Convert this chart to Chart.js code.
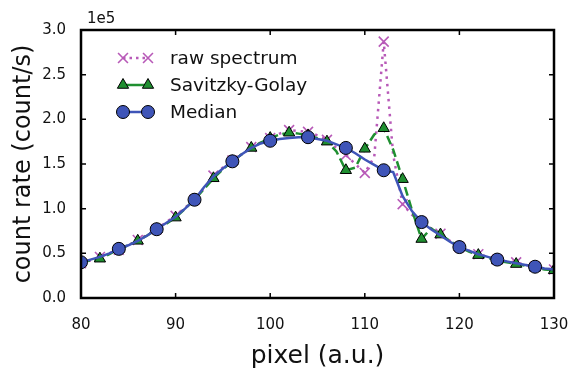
<!DOCTYPE html>
<html>
<head>
<meta charset="utf-8">
<script src="https://cdn.jsdelivr.net/npm/chart.js@4.4.0/dist/chart.umd.min.js"></script>
<style>
  html, body { margin: 0; padding: 0; background: #fff; }
  #wrap { width: 568px; height: 369px; }
</style>
</head>
<body>
<div id="wrap"><canvas id="spectrumChart"></canvas></div>
<script>
// pixel position (a.u.)
const pixels = [80, 81, 82, 83, 84, 85, 86, 87, 88, 89,
  90, 91, 92, 93, 94, 95, 96, 97, 98, 99,
  100, 101, 102, 103, 104, 105, 106, 107, 108, 109,
  110, 111, 112, 113, 114, 115, 116, 117, 118, 119,
  120, 121, 122, 123, 124, 125, 126, 127, 128, 129, 130];

// count rate, in units of 1e5 count/s
const rawSpectrum = [0.39, 0.42, 0.46, 0.50, 0.54, 0.59, 0.65, 0.71, 0.77, 0.85,
  0.92, 1.01, 1.10, 1.23, 1.37, 1.46, 1.54, 1.61, 1.69, 1.74,
  1.79, 1.84, 1.88, 1.87, 1.86, 1.82, 1.77, 1.68, 1.60, 1.50,
  1.40, 1.58, 2.87, 1.60, 1.05, 0.93, 0.85, 0.78, 0.72, 0.64,
  0.57, 0.53, 0.49, 0.46, 0.43, 0.41, 0.40, 0.37, 0.35, 0.33, 0.32];

const savitzkyGolay = [0.40, 0.42, 0.44, 0.49, 0.55, 0.59, 0.64, 0.70, 0.77, 0.83,
  0.90, 1.00, 1.10, 1.22, 1.34, 1.44, 1.53, 1.61, 1.68, 1.74,
  1.79, 1.83, 1.85, 1.84, 1.82, 1.79, 1.75, 1.64, 1.43, 1.46,
  1.67, 1.83, 1.90, 1.66, 1.33, 0.98, 0.66, 0.78, 0.71, 0.64,
  0.57, 0.52, 0.48, 0.45, 0.42, 0.40, 0.38, 0.36, 0.34, 0.32, 0.31];

const medianFilter = [0.40, 0.43, 0.46, 0.50, 0.55, 0.59, 0.64, 0.70, 0.77, 0.84,
  0.91, 1.00, 1.10, 1.24, 1.36, 1.45, 1.53, 1.61, 1.68, 1.73,
  1.76, 1.78, 1.79, 1.80, 1.80, 1.78, 1.76, 1.72, 1.68, 1.62,
  1.55, 1.49, 1.43, 1.41, 1.14, 0.97, 0.85, 0.77, 0.70, 0.63,
  0.57, 0.53, 0.49, 0.46, 0.43, 0.41, 0.39, 0.37, 0.35, 0.33, 0.32];

const xTicks = [80, 90, 100, 110, 120, 130];
const yTicks = [0.0, 0.5, 1.0, 1.5, 2.0, 2.5, 3.0];
const seriesNames = ["raw spectrum", "Savitzky-Golay", "Median"];
const offsetLabel = "1e5";

const FONT = "'DejaVu Sans', sans-serif";
const RAW_COLOR = "#b85ab8";
const SG_COLOR = "#1f8f30";
const MED_COLOR = "#3f55b8";

const toPoints = vals => pixels.map((p, i) => ({ x: p, y: vals[i] }));

// markers every 2nd / 4th pixel like the original
const everyOther = r => ctx => (pixels[ctx.dataIndex] % 2 === 0 ? r : 0);
const everyFourth = r => ctx => (pixels[ctx.dataIndex] % 4 === 0 ? r : 0);

// frame, inner ticks, legend and offset text
const decorPlugin = {
  id: "decor",
  afterDraw(chart) {
    const { ctx, chartArea: a, scales } = chart;
    ctx.save();
    ctx.strokeStyle = "#000";
    ctx.lineWidth = 1.5;
    xTicks.slice(1, -1).forEach(v => {
      const px = scales.x.getPixelForValue(v);
      ctx.beginPath();
      ctx.moveTo(px, a.bottom); ctx.lineTo(px, a.bottom - 5);
      ctx.moveTo(px, a.top); ctx.lineTo(px, a.top + 5);
      ctx.stroke();
    });
    yTicks.slice(1, -1).forEach(v => {
      const py = scales.y.getPixelForValue(v);
      ctx.beginPath();
      ctx.moveTo(a.left, py); ctx.lineTo(a.left + 5, py);
      ctx.moveTo(a.right, py); ctx.lineTo(a.right - 5, py);
      ctx.stroke();
    });
    ctx.lineWidth = 2.5;
    ctx.strokeRect(a.left, a.top, a.right - a.left, a.bottom - a.top);

    ctx.fillStyle = "#111";
    ctx.font = "15px " + FONT;
    ctx.textBaseline = "alphabetic";
    ctx.textAlign = "left";
    ctx.fillText(offsetLabel, a.left + 6, a.top - 7);

    // legend
    const x1 = 123, x2 = 148, rows = [58, 85, 112];
    const styles = [
      { line: RAW_COLOR, dash: [2.5, 4], style: "crossRot", r: 7, fill: RAW_COLOR, edge: RAW_COLOR, bw: 1.6 },
      { line: SG_COLOR, dash: [], style: "triangle", r: 6.5, fill: SG_COLOR, edge: "#000", bw: 1 },
      { line: MED_COLOR, dash: [], style: "circle", r: 6.5, fill: MED_COLOR, edge: "#000", bw: 1 }
    ];
    styles.forEach((s, i) => {
      const y = rows[i];
      ctx.save();
      ctx.strokeStyle = s.line;
      ctx.lineWidth = 2.5;
      ctx.setLineDash(s.dash);
      ctx.beginPath();
      ctx.moveTo(x1, y); ctx.lineTo(x2, y);
      ctx.stroke();
      ctx.restore();
      [x1, x2].forEach(px => {
        ctx.save();
        ctx.fillStyle = s.fill;
        ctx.strokeStyle = s.edge;
        ctx.lineWidth = s.bw;
        Chart.helpers.drawPoint(ctx, { pointStyle: s.style, radius: s.r, borderWidth: s.bw }, px, y);
        ctx.restore();
      });
      ctx.fillStyle = "#111";
      ctx.font = "18.5px " + FONT;
      ctx.textBaseline = "middle";
      ctx.textAlign = "left";
      ctx.fillText(seriesNames[i], 170, y + 1);
    });
    ctx.restore();
  }
};

new Chart(document.getElementById("spectrumChart"), {
  type: "line",
  data: {
    datasets: [
      {
        label: seriesNames[0],
        data: toPoints(rawSpectrum),
        order: 3,
        borderColor: RAW_COLOR,
        borderWidth: 2.5,
        borderDash: [2.5, 5],
        pointStyle: "crossRot",
        pointRadius: everyOther(7),
        pointBorderColor: RAW_COLOR,
        pointBorderWidth: 1.6,
        tension: 0,
        clip: 0
      },
      {
        label: seriesNames[1],
        data: toPoints(savitzkyGolay),
        order: 2,
        borderColor: SG_COLOR,
        borderWidth: 2.5,
        borderDash: [9, 4.5],
        pointStyle: "triangle",
        pointRadius: everyOther(6.5),
        pointBackgroundColor: SG_COLOR,
        pointBorderColor: "#000",
        pointBorderWidth: 1,
        tension: 0,
        clip: 0
      },
      {
        label: seriesNames[2],
        data: toPoints(medianFilter),
        order: 1,
        borderColor: MED_COLOR,
        borderWidth: 2.5,
        pointStyle: "circle",
        pointRadius: everyFourth(6.5),
        pointBackgroundColor: MED_COLOR,
        pointBorderColor: "#000",
        pointBorderWidth: 1,
        tension: 0,
        clip: 0
      }
    ]
  },
  options: {
    responsive: true,
    maintainAspectRatio: false,
    animation: false,
    events: [],
    layout: { padding: { top: 30, right: 14, left: 0, bottom: 0 } },
    plugins: { legend: { display: false }, tooltip: { enabled: false } },
    scales: {
      x: {
        type: "linear",
        min: 80,
        max: 130,
        afterFit: s => { s.height = 71; s.paddingLeft = 0; s.paddingRight = 0; },
        afterBuildTicks: s => { s.ticks = xTicks.map(v => ({ value: v })); },
        grid: { display: false },
        border: { display: false },
        ticks: { font: { family: FONT, size: 15 }, color: "#111", padding: 10, maxRotation: 0, autoSkip: false },
        title: {
          display: true,
          text: "pixel (a.u.)",
          font: { family: FONT, size: 25, lineHeight: 1 },
          color: "#111",
          padding: 0
        }
      },
      y: {
        min: 0,
        max: 3,
        afterFit: s => { s.width = 81; s.paddingTop = 0; s.paddingBottom = 0; },
        afterBuildTicks: s => { s.ticks = yTicks.map(v => ({ value: v })); },
        grid: { display: false },
        border: { display: false },
        ticks: {
          font: { family: FONT, size: 15 },
          color: "#111",
          padding: 7,
          callback: v => v.toFixed(1)
        },
        title: {
          display: true,
          text: "count rate (count/s)",
          font: { family: FONT, size: 24, lineHeight: 1.2 },
          color: "#111",
          padding: { top: 9, bottom: 0 }
        }
      }
    }
  },
  plugins: [decorPlugin]
});
</script>
</body>
</html>
